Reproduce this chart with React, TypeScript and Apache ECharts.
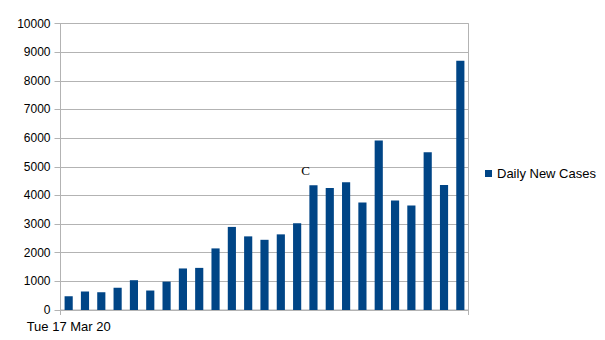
import React, { useEffect, useRef } from "react";
import * as echarts from "echarts";

const categories = [
  "Tue 17 Mar 20", "Wed 18 Mar 20", "Thu 19 Mar 20", "Fri 20 Mar 20", "Sat 21 Mar 20",
  "Sun 22 Mar 20", "Mon 23 Mar 20", "Tue 24 Mar 20", "Wed 25 Mar 20", "Thu 26 Mar 20",
  "Fri 27 Mar 20", "Sat 28 Mar 20", "Sun 29 Mar 20", "Mon 30 Mar 20", "Tue 31 Mar 20",
  "Wed 01 Apr 20", "Thu 02 Apr 20", "Fri 03 Apr 20", "Sat 04 Apr 20", "Sun 05 Apr 20",
  "Mon 06 Apr 20", "Tue 07 Apr 20", "Wed 08 Apr 20", "Thu 09 Apr 20", "Fri 10 Apr 20",
];

const dailyNewCases = [
  480, 650, 620, 780, 1040, 680, 990, 1450, 1470, 2150,
  2900, 2570, 2450, 2640, 3030, 4350, 4260, 4460, 3750, 5920,
  3820, 3650, 5510, 4360, 8700,
];

const yTicks = { min: 0, max: 10000, interval: 1000 };
const annotatedIndex = 15;
const annotationText = "C";

export default function App() {
  const ref = useRef<HTMLDivElement>(null);
  useEffect(() => {
    if (!ref.current) return;
    const chart = echarts.init(ref.current, null, { renderer: "svg" });
    const font = "Liberation Sans";
    chart.setOption({
      animation: false,
      textStyle: { fontFamily: font },
      grid: {
        left: 60.5,
        right: 136.5,
        top: 23.5,
        bottom: 30,
        show: true,
        borderColor: "#b3b3b3",
        borderWidth: 1,
        containLabel: false,
      },
      legend: {
        orient: "vertical",
        left: 485,
        top: 167,
        padding: 0,
        itemWidth: 7,
        itemHeight: 7,
        icon: "rect",
        textStyle: { fontFamily: font, fontSize: 13, color: "#000" },
        data: ["Daily New Cases"],
      },
      xAxis: {
        type: "category",
        data: categories,
        boundaryGap: true,
        axisLine: { show: true, lineStyle: { color: "#b3b3b3" } },
        axisTick: {
          show: true,
          length: 5,
          interval: (i: number) => i === 0,
          lineStyle: { color: "#b3b3b3" },
        },
        axisLabel: {
          interval: (i: number) => i === 0,
          fontFamily: font,
          fontSize: 13,
          color: "#000",
          margin: 10,
        },
        splitLine: { show: false },
      },
      yAxis: {
        type: "value",
        min: yTicks.min,
        max: yTicks.max,
        interval: yTicks.interval,
        axisLine: { show: true, lineStyle: { color: "#b3b3b3" } },
        axisTick: { show: true, length: 6, lineStyle: { color: "#b3b3b3" } },
        axisLabel: {
          fontFamily: font,
          fontSize: 12,
          color: "#000",
          margin: 10,
          formatter: (v: number) => String(v),
        },
        splitLine: { show: true, lineStyle: { color: "#b3b3b3", width: 1 } },
      },
      series: [
        {
          name: "Daily New Cases",
          type: "bar",
          barWidth: "50%",
          itemStyle: { color: "#004586" },
          data: dailyNewCases.map((v, i) =>
            i === annotatedIndex
              ? {
                  value: v,
                  label: {
                    show: true,
                    position: "top",
                    formatter: annotationText,
                    offset: [-8, -3],
                    fontFamily: "Liberation Serif",
                    fontSize: 13,
                    color: "#000",
                  },
                }
              : v
          ),
        },
      ],
    });
    return () => chart.dispose();
  }, []);
  return (
    <div
      ref={ref}
      style={{ position: "fixed", left: 0, top: 0, width: 605, height: 340, background: "#fff" }}
    />
  );
}
